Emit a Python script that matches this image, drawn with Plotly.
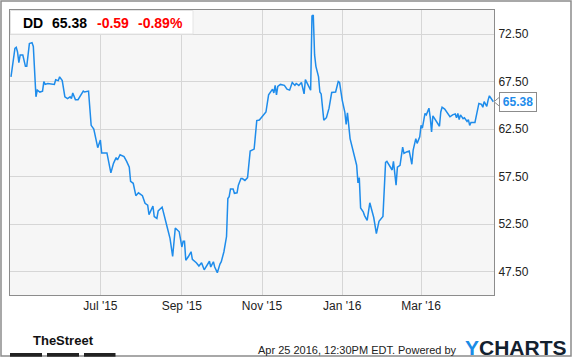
import plotly.graph_objects as go

dates = [
    "2015-04-24", "2015-04-27", "2015-04-28", "2015-04-29", "2015-04-30", "2015-05-01", "2015-05-03",
    "2015-05-05", "2015-05-06", "2015-05-08", "2015-05-10", "2015-05-11", "2015-05-13", "2015-05-14",
    "2015-05-16", "2015-05-18", "2015-05-19", "2015-05-20", "2015-05-22", "2015-05-27", "2015-05-28",
    "2015-05-30", "2015-05-31", "2015-06-02", "2015-06-04", "2015-06-06", "2015-06-08", "2015-06-09",
    "2015-06-10", "2015-06-12", "2015-06-14", "2015-06-16", "2015-06-18", "2015-06-19", "2015-06-22",
    "2015-06-24", "2015-06-26", "2015-06-29", "2015-07-01", "2015-07-02", "2015-07-06", "2015-07-09",
    "2015-07-11", "2015-07-13", "2015-07-14", "2015-07-16", "2015-07-19", "2015-07-21", "2015-07-23",
    "2015-07-24", "2015-07-26", "2015-07-28", "2015-07-30", "2015-08-02", "2015-08-04", "2015-08-06",
    "2015-08-07", "2015-08-10", "2015-08-11", "2015-08-13", "2015-08-14", "2015-08-17", "2015-08-18",
    "2015-08-21", "2015-08-23", "2015-08-25", "2015-08-27", "2015-08-30", "2015-09-01", "2015-09-02",
    "2015-09-03", "2015-09-04", "2015-09-06", "2015-09-08", "2015-09-09", "2015-09-12", "2015-09-14",
    "2015-09-16", "2015-09-18", "2015-09-20", "2015-09-22", "2015-09-23", "2015-09-25", "2015-09-26",
    "2015-09-28", "2015-09-30", "2015-10-01", "2015-10-03", "2015-10-05", "2015-10-06", "2015-10-07",
    "2015-10-08", "2015-10-10", "2015-10-11", "2015-10-13", "2015-10-14", "2015-10-16", "2015-10-17",
    "2015-10-19", "2015-10-21", "2015-10-23", "2015-10-26", "2015-10-28", "2015-10-30", "2015-11-02",
    "2015-11-04", "2015-11-06", "2015-11-08", "2015-11-09", "2015-11-10", "2015-11-11", "2015-11-12",
    "2015-11-13", "2015-11-15", "2015-11-18", "2015-11-20", "2015-11-22", "2015-11-24", "2015-11-26",
    "2015-11-27", "2015-11-29", "2015-12-01", "2015-12-03", "2015-12-04", "2015-12-06", "2015-12-08",
    "2015-12-09", "2015-12-10", "2015-12-11", "2015-12-12", "2015-12-14", "2015-12-15", "2015-12-16",
    "2015-12-18", "2015-12-20", "2015-12-22", "2015-12-24", "2015-12-27", "2015-12-29", "2015-12-30",
    "2016-01-01", "2016-01-03", "2016-01-04", "2016-01-05", "2016-01-07", "2016-01-09", "2016-01-12",
    "2016-01-13", "2016-01-14", "2016-01-15", "2016-01-17", "2016-01-18", "2016-01-20", "2016-01-22",
    "2016-01-24", "2016-01-25", "2016-01-27", "2016-01-29", "2016-02-01", "2016-02-03", "2016-02-04",
    "2016-02-06", "2016-02-08", "2016-02-09", "2016-02-11", "2016-02-12", "2016-02-14", "2016-02-16",
    "2016-02-17", "2016-02-19", "2016-02-21", "2016-02-23", "2016-02-24", "2016-02-26", "2016-02-27",
    "2016-02-29", "2016-03-01", "2016-03-02", "2016-03-04", "2016-03-05", "2016-03-07", "2016-03-08",
    "2016-03-09", "2016-03-10", "2016-03-12", "2016-03-15", "2016-03-16", "2016-03-17", "2016-03-19",
    "2016-03-22", "2016-03-23", "2016-03-25", "2016-03-27", "2016-03-28", "2016-03-29", "2016-03-30",
    "2016-03-31", "2016-04-02", "2016-04-03", "2016-04-05", "2016-04-06", "2016-04-07", "2016-04-08",
    "2016-04-11", "2016-04-13", "2016-04-14", "2016-04-16", "2016-04-17", "2016-04-18", "2016-04-20",
    "2016-04-21", "2016-04-22", "2016-04-25",
]

prices = [
    68.0, 71.0, 71.1, 70.6, 69.5, 70.3, 70.3,
    69.1, 69.1, 71.5, 71.6, 71.2, 65.9, 66.6,
    66.4, 66.5, 67.5, 67.2, 67.3, 67.2, 67.7,
    67.6, 68.0, 67.6, 65.9, 65.7, 65.9, 65.7,
    66.3, 65.6, 65.6, 66.1, 66.5, 66.4, 66.5,
    62.9, 62.5, 60.55, 61.35, 60.0, 60.0, 57.9,
    58.9, 59.5, 59.25, 59.8, 59.6, 59.1, 58.5,
    57.0, 56.8, 55.5, 55.8, 55.5, 54.7, 54.5,
    53.5, 54.4, 53.3, 53.1, 53.9, 54.3, 53.8,
    52.1, 51.0, 49.1, 52.1, 51.7, 50.1, 50.7,
    50.7, 48.7, 49.1, 49.6, 48.8, 48.45, 48.1,
    48.45, 47.7, 48.1, 48.6, 48.0, 48.55, 48.0,
    47.4, 48.3, 48.55, 49.6, 51.2, 55.2, 55.4,
    56.2, 56.2, 55.75, 55.8, 56.6, 57.3, 57.3,
    57.1, 57.4, 60.2, 60.4, 63.4, 63.45, 64.0,
    64.3, 66.1, 66.6, 66.7, 66.3, 67.1, 66.1,
    67.0, 67.2, 67.1, 66.7, 66.6, 67.4, 67.1,
    67.3, 67.1, 67.4, 66.2, 67.7, 67.2, 66.6,
    74.4, 74.5, 70.3, 69.1, 68.0, 66.4, 66.2,
    63.45, 63.7, 64.7, 66.35, 66.4, 67.5, 67.4,
    65.55, 64.3, 63.0, 64.2, 61.5, 60.3, 58.7,
    56.85, 57.4, 54.2, 53.8, 53.4, 52.9, 54.75,
    53.6, 53.2, 51.5, 52.8, 53.3, 59.0, 59.1,
    58.6, 58.2, 59.1, 56.6, 58.5, 58.7, 60.6,
    59.95, 60.1, 60.2, 58.8, 60.3, 61.5, 61.0,
    61.7, 62.9, 62.6, 64.15, 64.0, 64.7, 63.7,
    62.2, 63.9, 63.45, 62.8, 64.3, 64.8, 64.6,
    64.0, 63.8, 64.0, 64.1, 63.7, 64.15, 63.5,
    64.0, 63.6, 63.7, 63.3, 63.5, 62.9, 63.2,
    63.2, 64.5, 65.2, 65.1, 64.8, 65.4, 64.9,
    65.55, 66.0, 65.38,
]

ticker = "DD"
last_price = "65.38"
change = "-0.59"
change_pct = "-0.89%"
y_ticks = [47.5, 52.5, 57.5, 62.5, 67.5, 72.5]
x_tick_dates = ["2015-07-01", "2015-09-01", "2015-11-01", "2016-01-01", "2016-03-01"]
x_tick_labels = ["Jul '15", "Sep '15", "Nov '15", "Jan '16", "Mar '16"]
footer_text = "Apr 25 2016, 12:30PM EDT. Powered by"

LINE = "rgb(30,140,235)"
FONT = "Liberation Sans, Arial, sans-serif"

W, H = 575, 358
L, R, T, B = 10, 81, 10, 63
PW, PH = W - L - R, H - T - B


def px(x):
    return (x - L) / PW


def py(y):
    return (H - B - y) / PH


fig = go.Figure()
fig.add_trace(go.Scatter(x=dates, y=prices, mode="lines",
                         line=dict(color=LINE, width=1.5), hoverinfo="skip"))

fig.update_layout(
    width=W, height=H,
    margin=dict(l=L, r=R, t=T, b=B),
    paper_bgcolor="white",
    plot_bgcolor="#f6f6f6",
    showlegend=False,
    font=dict(family=FONT, size=12, color="#222"),
    xaxis=dict(
        type="date",
        range=["2015-04-23 06:00", "2016-04-25 12:00"],
        tickvals=x_tick_dates, ticktext=x_tick_labels,
        showgrid=True, gridcolor="#d6d6d6", gridwidth=1,
        showline=True, linecolor="#8c8c8c", linewidth=1, mirror=True,
        ticks="", zeroline=False,
        tickfont=dict(size=12, color="#222"),
    ),
    yaxis=dict(
        side="right",
        range=[45.05, 75.03],
        tickvals=y_ticks, ticktext=[f"{v:.2f}" for v in y_ticks],
        showgrid=True, gridcolor="#d6d6d6", gridwidth=1,
        showline=True, linecolor="#8c8c8c", linewidth=1, mirror=True,
        ticks="", zeroline=False,
        tickfont=dict(size=12, color="#222"),
        ticklabelstandoff=1,
    ),
)

shapes = []
# outer border
shapes.append(dict(type="rect", xref="paper", yref="paper",
                   x0=px(1), x1=px(571), y0=py(356), y1=py(1),
                   line=dict(color="#8c8c8c", width=1.5), fillcolor="rgba(0,0,0,0)", layer="above"))
# header box
shapes.append(dict(type="rect", xref="paper", yref="paper",
                   x0=px(10.5), x1=px(193), y0=py(34), y1=py(10.5),
                   line=dict(color="#e4e4e4", width=1), fillcolor="white", layer="above"))
# TheStreet bars
for a, b in [(10, 42), (47, 79), (84, 115.5)]:
    shapes.append(dict(type="rect", xref="paper", yref="paper",
                       x0=px(a), x1=px(b), y0=py(356.7), y1=py(353),
                       line=dict(width=0), fillcolor="#222"))
# last price pointer
yl = 34 + (72.5 - float(last_price)) * 9.508
shapes.append(dict(type="path", xref="paper", yref="paper",
                   path=f"M {px(500)},{py(yl - 5)} L {px(494)},{py(yl)} L {px(500)},{py(yl + 5)}",
                   line=dict(color="#8c8c8c", width=1), fillcolor="white", layer="above"))
fig.update_layout(shapes=shapes)

ann = []
hdr_y = py(23.3)
for txt, x, col in [(ticker, 21, "#000"), (last_price, 50, "#000"),
                    (change, 95, "#ff0000"), (change_pct, 136, "#ff0000")]:
    ann.append(dict(text=f"<b>{txt}</b>", x=px(x), y=hdr_y, xref="paper", yref="paper",
                    xanchor="left", yanchor="middle", showarrow=False,
                    font=dict(size=14, color=col, family=FONT)))
ann.append(dict(text=f"<b>{last_price}</b>", x=px(499), y=float(last_price), xref="paper", yref="y",
                xanchor="left", yanchor="middle", showarrow=False,
                font=dict(size=12, color=LINE, family=FONT),
                bgcolor="white", bordercolor="#8c8c8c", borderwidth=1, borderpad=1,
                width=34, height=16))
ann.append(dict(text="<b>TheStreet</b>", x=px(63), y=py(340), xref="paper", yref="paper",
                xanchor="center", yanchor="middle", showarrow=False,
                font=dict(size=13, color="#111", family=FONT)))
ann.append(dict(text=footer_text, x=px(459), y=py(350), xref="paper", yref="paper",
                xanchor="right", yanchor="middle", showarrow=False,
                font=dict(size=11, color="#222", family=FONT)))
ann.append(dict(text="<b><span style='color:#1a8ce6'>Y</span>CHARTS</b>", x=px(463), y=py(347.5),
                xref="paper", yref="paper", xanchor="left", yanchor="middle", showarrow=False,
                font=dict(size=21, color="#13212f", family=FONT)))
fig.update_layout(annotations=ann)

fig.write_html("out.html")
